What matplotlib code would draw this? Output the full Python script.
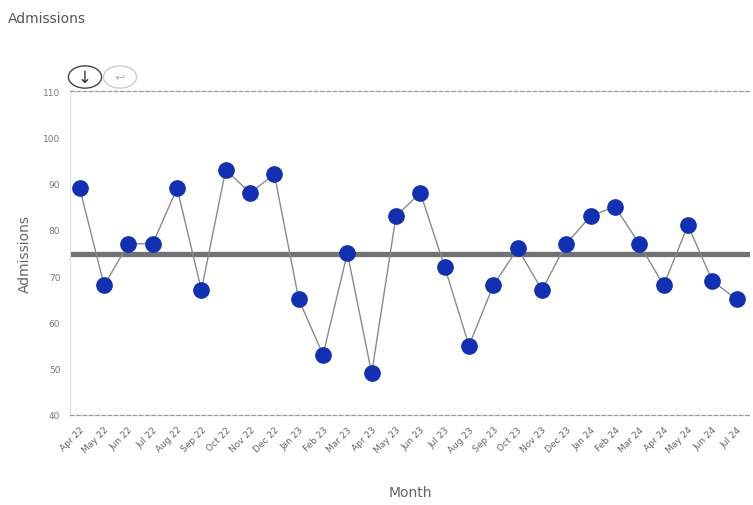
import matplotlib.pyplot as plt
from matplotlib.patches import Circle

# Monthly admissions, Apr 22 - Jul 24
months = ["Apr 22", "May 22", "Jun 22", "Jul 22", "Aug 22", "Sep 22", "Oct 22",
          "Nov 22", "Dec 22", "Jan 23", "Feb 23", "Mar 23", "Apr 23", "May 23",
          "Jun 23", "Jul 23", "Aug 23", "Sep 23", "Oct 23", "Nov 23", "Dec 23",
          "Jan 24", "Feb 24", "Mar 24", "Apr 24", "May 24", "Jun 24", "Jul 24"]
admissions = [89, 68, 77, 77, 89, 67, 93, 88, 92, 65, 53, 75, 49, 83,
              88, 72, 55, 68, 76, 67, 77, 83, 85, 77, 68, 81, 69, 65]
y_ticks = [40, 50, 60, 70, 80, 90, 100, 110]

mean_value = sum(admissions) / len(admissions)
x = list(range(len(months)))

fig = plt.figure(figsize=(7.53, 5.06), dpi=100)
ax = fig.add_axes([0.093, 0.178, 0.903, 0.640])

ax.axhline(mean_value, color="#727272", linewidth=3.8, zorder=1)
ax.plot(x, admissions, color="#8a8a8a", linewidth=1, zorder=2)
ax.plot(x, admissions, linestyle="none", marker="o", markersize=11,
        color="#1230b4", zorder=3)

ax.set_xlim(-0.4, len(months) - 0.45)
ax.set_ylim(40, 110)
ax.set_yticks(y_ticks)
ax.set_yticklabels([str(v) for v in y_ticks], fontsize=6.5, color="#777777")
ax.set_xticks(x)
ax.set_xticklabels(months, rotation=45, ha="right", rotation_mode="anchor",
                   fontsize=6.5, color="#666666")
ax.tick_params(axis="both", length=0, pad=7)

# dashed limits top and bottom, thin solid left edge
for side in ["top", "bottom"]:
    ax.spines[side].set_linestyle((0, (3, 2)))
    ax.spines[side].set_color("#999999")
    ax.spines[side].set_linewidth(0.9)
ax.spines["left"].set_color("#dddddd")
ax.spines["left"].set_linewidth(0.8)
ax.spines["right"].set_visible(False)

ax.set_ylabel("Admissions", fontsize=10, color="#666666", labelpad=8)
ax.set_xlabel("Month", fontsize=10, color="#666666", labelpad=22)

fig.text(0.011, 0.962, "Admissions", fontsize=10, color="#555555", va="center")

# small toolbar buttons above the plot
btn1 = Circle((85 / 753, 1 - 78 / 506), 0.022, transform=fig.transFigure,
              facecolor="white", edgecolor="#444444", linewidth=1.0)
btn2 = Circle((120 / 753, 1 - 78 / 506), 0.022, transform=fig.transFigure,
              facecolor="white", edgecolor="#cccccc", linewidth=1.0)
fig.add_artist(btn1)
fig.add_artist(btn2)
fig.text(85 / 753, 1 - 78 / 506, "↓", fontsize=12, color="#333333",
         ha="center", va="center")
fig.text(120 / 753, 1 - 78 / 506, "↩", fontsize=9, color="#bbbbbb",
         ha="center", va="center")

plt.savefig("out.png", dpi=100)
